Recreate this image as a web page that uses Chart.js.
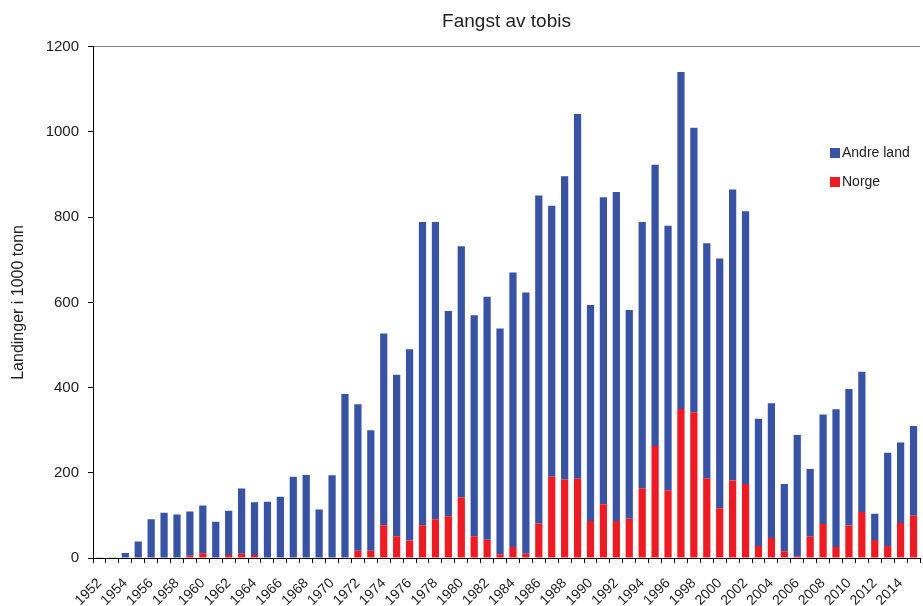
<!DOCTYPE html>
<html>
<head>
<meta charset="utf-8">
<script src="https://cdn.jsdelivr.net/npm/chart.js@4"></script>
<style>
  html, body { margin: 0; padding: 0; background: #fff; }
  #wrap { width: 923px; height: 606px; position: relative; }
</style>
</head>
<body>
<div id="wrap"><canvas id="mycanvas" width="923" height="606"></canvas></div>
<script>
// år
var years = [1952,1953,1954,1955,1956,1957,1958,1959,1960,1961,1962,1963,1964,1965,1966,1967,1968,1969,1970,1971,
  1972,1973,1974,1975,1976,1977,1978,1979,1980,1981,1982,1983,1984,1985,1986,1987,1988,1989,1990,1991,
  1992,1993,1994,1995,1996,1997,1998,1999,2000,2001,2002,2003,2004,2005,2006,2007,2008,2009,2010,2011,
  2012,2013,2014,2015];

// landinger, 1000 tonn
var norge = [0,0,0,0,0,0,0,5,11,0,7,10,7,0,0,0,0,0,0,0,
  17,17,77,51,41,77,91,98,142,51,43,9,26,10,81,191,184,186,87,126,
  87,92,164,263,159,350,342,187,117,182,174,28,47,16,4,50,80,26,76,108,
  42,28,82,99];
var andreLand = [2,2,12,39,91,106,102,104,112,85,104,153,124,132,144,191,195,114,194,385,
  344,283,450,379,449,712,698,482,590,519,570,530,644,613,770,636,712,856,507,721,
  772,490,625,660,621,791,668,552,586,683,640,299,316,158,285,159,257,323,321,329,
  62,219,189,211];

var yTicks = [0,200,400,600,800,1000,1200];

var fontFam = "'Liberation Sans', Arial, sans-serif";

// egen legende inne i plottet
var legendPlugin = {
  id: 'egenLegende',
  afterDraw: function(chart) {
    var ctx = chart.ctx;
    var items = [
      { text: 'Andre land', color: '#3953a4' },
      { text: 'Norge', color: '#ed1c24' }
    ];
    ctx.save();
    ctx.font = '14px ' + fontFam;
    ctx.textBaseline = 'middle';
    for (var i = 0; i < items.length; i++) {
      var y = 153 + i * 29;
      ctx.fillStyle = items[i].color;
      ctx.fillRect(830, y - 5, 10, 10);
      ctx.fillStyle = '#222';
      ctx.fillText(items[i].text, 842, y);
    }
    ctx.restore();
  }
};

var chartdata = {
  labels: years,
  datasets: [
    {
      label: 'Norge',
      backgroundColor: '#ed1c24',
      data: norge,
      barPercentage: 0.56,
      categoryPercentage: 1.0
    },
    {
      label: 'Andre land',
      backgroundColor: '#3953a4',
      data: andreLand,
      barPercentage: 0.56,
      categoryPercentage: 1.0
    }
  ]
};

var ctx = document.getElementById('mycanvas');

var barGraph = new Chart(ctx, {
  type: 'bar',
  data: chartdata,
  plugins: [legendPlugin],
  options: {
    responsive: false,
    animation: false,
    layout: { padding: { left: 9, right: 3, top: 0, bottom: 0 } },
    plugins: {
      legend: { display: false },
      tooltip: { enabled: false },
      title: {
        display: true,
        text: 'Fangst av tobis',
        color: '#222',
        fullSize: false,
        font: { family: fontFam, size: 19, weight: 'normal' },
        padding: { top: 10, bottom: 14 }
      }
    },
    scales: {
      x: {
        stacked: true,
        offset: true,
        border: { display: true, color: '#000', width: 1 },
        grid: {
          display: true,
          offset: true,
          drawOnChartArea: false,
          drawTicks: true,
          tickLength: 5,
          color: '#000'
        },
        ticks: {
          autoSkip: false,
          minRotation: 45,
          maxRotation: 45,
          color: '#222',
          padding: 12,
          font: { family: fontFam, size: 14 },
          callback: function(val, idx) {
            var yr = years[idx];
            return yr % 2 === 0 ? String(yr) : '';
          }
        },
        afterFit: function(s) {
          s.height = 48;
          s.paddingRight = 0;
        }
      },
      y: {
        stacked: true,
        min: 0,
        max: 1200,
        border: { display: true, color: '#000', width: 1 },
        afterBuildTicks: function(s) {
          s.ticks = yTicks.map(function(v) { return { value: v }; });
        },
        grid: {
          drawOnChartArea: true,
          drawTicks: true,
          tickLength: 5,
          tickColor: '#000',
          color: function(c) {
            return (c.tick && c.tick.value === 1200) ? '#808080' : 'rgba(0,0,0,0)';
          }
        },
        ticks: {
          color: '#222',
          padding: 9,
          font: { family: fontFam, size: 15 },
          callback: function(v) { return String(v); }
        },
        title: {
          display: true,
          text: 'Landinger i 1000 tonn',
          color: '#222',
          font: { family: fontFam, size: 16 },
          padding: { top: 0, bottom: 0 }
        },
        afterFit: function(s) { s.width = 84; }
      }
    }
  }
});
</script>
</body>
</html>
